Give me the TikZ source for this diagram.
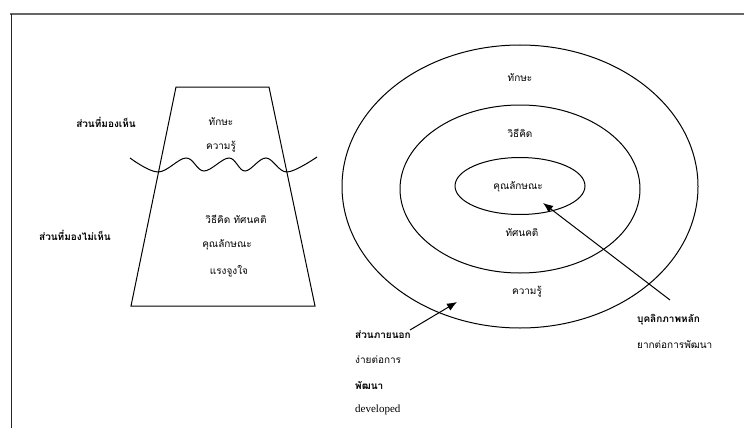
\documentclass[tikz,border=0pt]{standalone}
\usepackage{fontspec}
\setmainfont{Liberation Serif}
\newfontfamily\thaifont[Script=Thai]{Loma}
\usetikzlibrary{shapes.geometric,arrows.meta}
\tikzset{
  txt/.style={font=\thaifont\fontsize{10}{12}\selectfont, inner sep=0pt},
  btxt/.style={font=\thaifont\bfseries\fontsize{10}{12}\selectfont, inner sep=0pt},
  ring/.style={draw, ellipse, inner sep=0pt, line width=1pt},
  pointer/.style={line width=1pt, -{Latex[length=10pt,width=8pt]}},
  edge/.style={line width=1pt, line join=miter}
}
\begin{document}
\begin{tikzpicture}[x=1pt,y=-1pt]
\useasboundingbox (0,0) rectangle (744,428);
% frame
\draw[black!60, line width=1.3pt] (10,14) -- (744,14);
\draw[black!85, line width=0.9pt] (11,14) -- (11,428);
% iceberg
\draw[edge] (176,87) -- (269,87) -- (315,306) -- (131,306) -- cycle;
\draw[edge] plot[smooth, tension=0.6] coordinates {(130,158) (158,172) (186,158) (204,171) (229,158) (245,171) (266,158) (287,172) (317,157)};
\node[txt] (t1) at (221,122) {ทักษะ};
\node[txt] (t2) at (221,147) {ความรู้};
\node[txt] (t3) at (236,219) {วิธีคิด ทัศนคติ};
\node[txt] (t4) at (227,245) {คุณลักษณะ};
\node[txt] (t5) at (229,271) {แรงจูงใจ};
\node[btxt] (l1) at (106,122) {ส่วนที่มองเห็น};
\node[btxt] (l2) at (75,235) {ส่วนที่มองไม่เห็น};
% circles
\node[ring, minimum width=356pt, minimum height=283pt] (outer) at (520,186.5) {};
\node[ring, minimum width=240pt, minimum height=168pt] (middle) at (520,189) {};
\node[ring, minimum width=130pt, minimum height=57pt] (inner) at (520,186) {};
\node[txt] (c1) at (520,78) {ทักษะ};
\node[txt] (c2) at (520,133) {วิธีคิด};
\node[txt] (c3) at (518,187) {คุณลักษณะ};
\node[txt] (c4) at (522,233) {ทัศนคติ};
\node[txt] (c5) at (527,292) {ความรู้};
% labels
\node[btxt, anchor=west] (o1) at (355,335) {ส่วนภายนอก};
\node[txt, anchor=west] (o2) at (355,360) {ง่ายต่อการ};
\node[btxt, anchor=west] (o3) at (355,385) {พัฒนา};
\node[anchor=west, inner sep=0pt, font=\fontsize{11}{13}\selectfont] (o4) at (355,410) {developed};
\node[btxt, anchor=west] (k1) at (637,320) {บุคลิกภาพหลัก};
\node[txt, anchor=west] (k2) at (637,345) {ยากต่อการพัฒนา};
% arrows
\coordinate (a1s) at (670,300);
\coordinate (a1e) at (543,203);
\coordinate (a2s) at (410,330);
\coordinate (a2e) at (457,302);
\draw[pointer] (a1s) -- (a1e);
\draw[pointer] (a2s) -- (a2e);
\end{tikzpicture}
\end{document}
